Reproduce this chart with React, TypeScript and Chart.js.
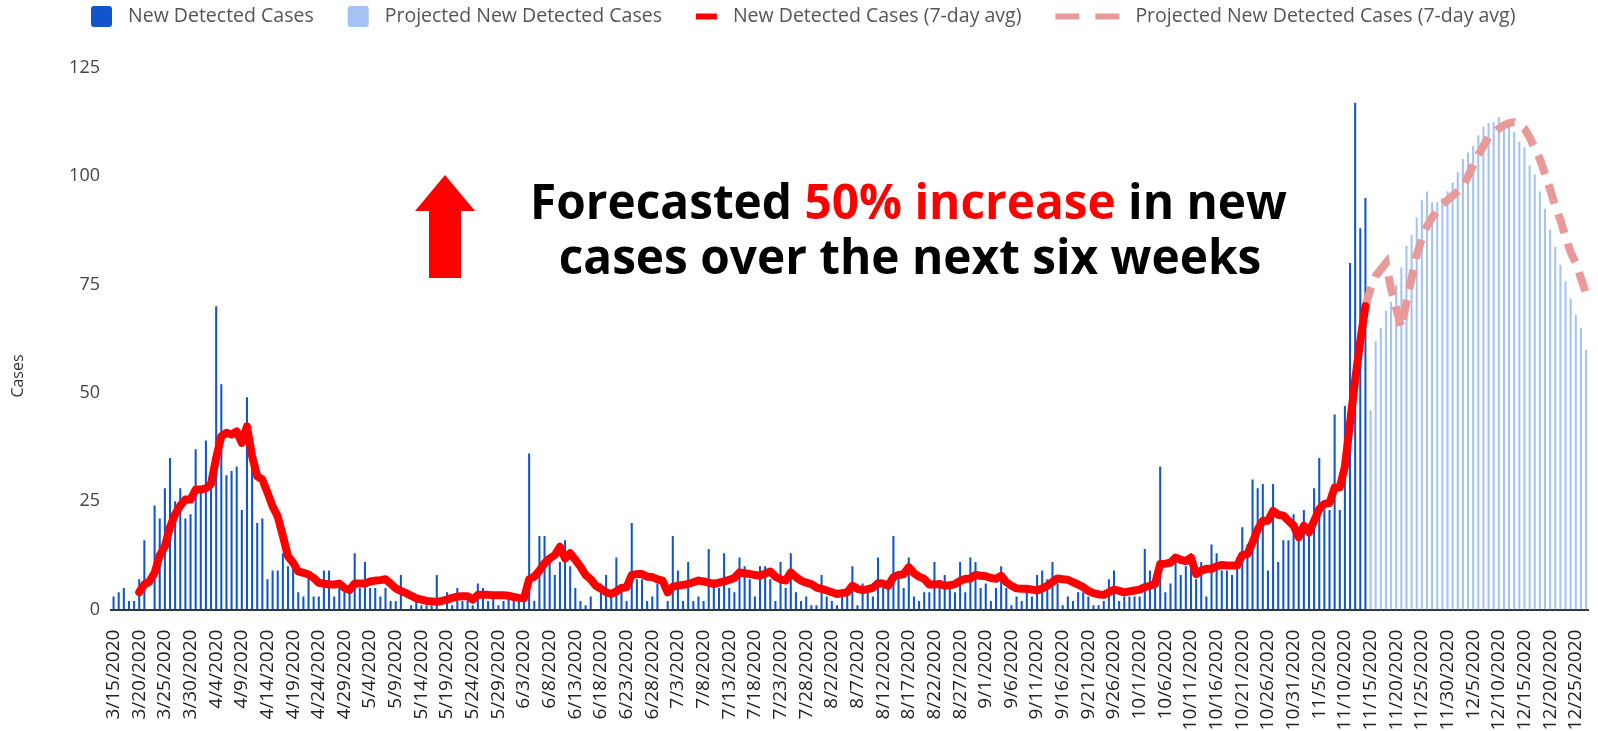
import React, { useEffect, useRef } from 'react';
import { Chart, registerables } from 'chart.js';

Chart.register(...registerables);

// ---------- DATA ----------
const START_YEAR = 2020;
const START_MONTH = 3;
const START_DAY = 15;
const DAY_COUNT = 288; // 3/15/2020 .. 12/27/2020

const TICK_LABELS = [
  '3/15/2020', '3/20/2020', '3/25/2020', '3/30/2020', '4/4/2020', '4/9/2020', '4/14/2020', '4/19/2020',
  '4/24/2020', '4/29/2020', '5/4/2020', '5/9/2020', '5/14/2020', '5/19/2020', '5/24/2020', '5/29/2020',
  '6/3/2020', '6/8/2020', '6/13/2020', '6/18/2020', '6/23/2020', '6/28/2020', '7/3/2020', '7/8/2020',
  '7/13/2020', '7/18/2020', '7/23/2020', '7/28/2020', '8/2/2020', '8/7/2020', '8/12/2020', '8/17/2020',
  '8/22/2020', '8/27/2020', '9/1/2020', '9/6/2020', '9/11/2020', '9/16/2020', '9/21/2020', '9/26/2020',
  '10/1/2020', '10/6/2020', '10/11/2020', '10/16/2020', '10/21/2020', '10/26/2020', '10/31/2020',
  '11/5/2020', '11/10/2020', '11/15/2020', '11/20/2020', '11/25/2020', '11/30/2020', '12/5/2020',
  '12/10/2020', '12/15/2020', '12/20/2020', '12/25/2020',
];

// New detected cases, 3/15 .. 11/14
const NEW_CASES = [
  3, 4, 5, 2, 2, 7, 16, 0, 24, 21,
  28, 35, 25, 28, 21, 22, 37, 27, 39, 28,
  70, 52, 31, 32, 33, 23, 49, 33, 20, 21,
  7, 9, 9, 13, 10, 10, 4, 3, 8, 3,
  3, 9, 9, 3, 5, 5, 4, 13, 5, 11,
  5, 5, 3, 5, 2, 2, 8, 0, 1, 2,
  1, 1, 1, 8, 0, 4, 1, 5, 2, 2,
  1, 6, 5, 2, 3, 1, 2, 3, 2, 2,
  2, 36, 2, 17, 17, 11, 8, 11, 16, 10,
  5, 2, 1, 3, 0, 6, 8, 3, 12, 4,
  2, 20, 7, 7, 2, 3, 6, 0, 2, 17,
  9, 2, 11, 2, 3, 2, 14, 7, 5, 13,
  5, 4, 12, 10, 7, 3, 10, 10, 7, 2,
  11, 5, 13, 4, 2, 3, 1, 1, 8, 3,
  2, 1, 4, 4, 10, 1, 6, 4, 3, 12,
  5, 5, 17, 8, 5, 12, 3, 2, 4, 4,
  11, 5, 8, 5, 4, 11, 4, 12, 11, 5,
  6, 2, 5, 10, 5, 1, 3, 2, 4, 3,
  8, 9, 7, 11, 6, 1, 3, 2, 4, 4,
  3, 1, 1, 2, 7, 9, 2, 3, 3, 3,
  3, 14, 9, 6, 33, 4, 6, 11, 8, 10,
  13, 7, 11, 3, 15, 13, 9, 9, 8, 12,
  19, 15, 30, 28, 29, 9, 29, 11, 16, 16,
  22, 17, 23, 17, 28, 35, 23, 23, 45, 23,
  47, 80, 117, 88, 95,
];

// Projected new detected cases, 11/15 .. 12/27
const PROJECTED_START = 245;
const PROJECTED_CASES = [
  46, 62, 65, 69, 71, 75, 79, 84, 86.5, 90.5,
  94.5, 96.5, 94, 94, 95, 96.5, 98.5, 101, 104, 105.5,
  107, 109.5, 111.5, 112.3, 112.5, 113.7, 111.5, 111.5, 110.3, 108,
  106.7, 102.5, 100.5, 96.5, 92.5, 87.7, 83.7, 79.6, 75.8, 71.8,
  68, 65, 60,
];

// 7-day average, 3/20 .. 11/14
const AVG_START = 5;
const NEW_CASES_AVG = [
  4, 5.8, 6.5, 8.5, 12.5,
  14.6, 19, 22, 24, 25.4, 25.4, 27.7, 27.7, 28, 29,
  35, 40, 40.8, 40.4, 41.1, 38.5, 42.3, 35.4, 30.8, 30,
  27, 23.8, 21.5, 17, 12.3, 10.8, 8.8, 8.5, 8.1, 7.3,
  6.2, 6, 5.8, 5.8, 6, 5, 4.5, 6, 6, 6,
  6.5, 6.7, 6.8, 7, 6, 4.9, 4.3, 3.8, 3.2, 2.6,
  2.3, 2, 1.9, 1.8, 2, 2.3, 2.7, 3, 3.1, 3.1,
  2.3, 3.4, 3.4, 3.4, 3.3, 3.3, 3.3, 3.2, 2.9, 2.7,
  2.6, 7, 7.6, 9, 10.7, 11.8, 12.6, 14.5, 11.8, 13,
  11.5, 9.9, 8, 7, 5.5, 4.8, 4, 3.6, 4.2, 5,
  5.2, 8, 8.2, 8.2, 7.6, 7.5, 7, 6.7, 4, 5.3,
  5.5, 5.7, 5.9, 6.3, 6.7, 6.5, 6.2, 5.9, 6.2, 6.5,
  6.9, 7.3, 8.6, 8.4, 8.2, 8, 7.8, 8.3, 8.8, 7.6,
  7, 6.7, 8.6, 7.5, 6.7, 6.2, 5.9, 5.1, 4.8, 4.4,
  4, 3.6, 3.8, 4, 5.5, 4.8, 4.5, 4.7, 5, 6.1,
  6, 5.5, 7.5, 8, 8.2, 9.8, 8.4, 7.6, 7.1, 5.8,
  5.8, 5.9, 5.5, 5.6, 5.9, 6.6, 7.1, 7.2, 8, 7.8,
  7.7, 7.3, 7.1, 7.8, 6.3, 5.5, 4.9, 4.8, 4.8, 4.6,
  4.4, 4.9, 5.5, 6.4, 7.2, 7, 6.9, 6.3, 5.8, 5.2,
  4.3, 3.8, 3.5, 3.4, 4, 4.6, 4.3, 4, 4.2, 4.4,
  4.6, 5.2, 5.5, 5.9, 10.5, 10.6, 10.8, 12, 11.5, 11.2,
  12, 8.2, 9, 9.4, 9.4, 10, 10.3, 10.2, 10.2, 10.2,
  12.6, 12.8, 15.5, 18.5, 20.5, 20.5, 22.8, 21.9, 21.7, 20.5,
  19.4, 16.7, 19.4, 17.8, 20.5, 23.2, 24.4, 24.6, 28.2, 28.2,
  33, 43, 53, 62, 70,
];

// Projected 7-day average, 11/14 .. 12/27
const PROJECTED_AVG_START = 244;
const PROJECTED_AVG = [
  70, 74, 77, 78.5, 80, 74, 69.5, 65, 71, 76.5,
  82, 85.5, 88.5, 90.5, 92, 93.5, 94.5, 95.5, 96.5, 97.5,
  100, 102.5, 105, 107, 109, 110, 111, 111.8, 112.3, 112.5,
  112, 111, 109, 106.5, 104, 100.5, 97, 93, 90, 86,
  82.5, 80, 76.5, 73,
];

const SERIES_NAMES = [
  'New Detected Cases',
  'Projected New Detected Cases',
  'New Detected Cases (7-day avg)',
  'Projected New Detected Cases (7-day avg)',
];

const Y_TITLE = 'Cases';
const HEADLINE_1 = ['Forecasted ', '50% increase', ' in new'];
const HEADLINE_2 = 'cases over the next six weeks';

// ---------- STYLE ----------
const FONT = '"Open Sans", "DejaVu Sans", sans-serif';
const DARK_BLUE = '#1155CC';
const LIGHT_BLUE = '#A4C2F4';
const RED = '#FF0000';
const PINK = '#EA9999';

function buildCategories(): string[] {
  const out: string[] = [];
  for (let i = 0; i < DAY_COUNT; i++) {
    const d = new Date(Date.UTC(START_YEAR, START_MONTH - 1, START_DAY + i));
    out.push(`${d.getUTCMonth() + 1}/${d.getUTCDate()}/${d.getUTCFullYear()}`);
  }
  return out;
}

function placeSeries(values: number[], start: number, count: number): (number | null)[] {
  const out: (number | null)[] = [];
  for (let i = 0; i < count; i++) {
    const j = i - start;
    out.push(j >= 0 && j < values.length ? values[j] : null);
  }
  return out;
}

function roundRectPath(ctx: CanvasRenderingContext2D, x: number, y: number, w: number, h: number, r: number) {
  ctx.beginPath();
  ctx.moveTo(x + r, y);
  ctx.lineTo(x + w - r, y);
  ctx.quadraticCurveTo(x + w, y, x + w, y + r);
  ctx.lineTo(x + w, y + h - r);
  ctx.quadraticCurveTo(x + w, y + h, x + w - r, y + h);
  ctx.lineTo(x + r, y + h);
  ctx.quadraticCurveTo(x, y + h, x, y + h - r);
  ctx.lineTo(x, y + r);
  ctx.quadraticCurveTo(x, y, x + r, y);
  ctx.closePath();
}

const legendPlugin = {
  id: 'sheetLegend',
  afterDraw(chart: any) {
    const ctx: CanvasRenderingContext2D = chart.ctx;
    ctx.save();
    ctx.font = `19.5px ${FONT}`;
    ctx.textBaseline = 'middle';
    ctx.textAlign = 'left';
    const symbolW = [21, 21, 21, 64];
    const gap = 16;
    const itemGap = 34;
    let x = 91;
    const cy = 16.5;
    SERIES_NAMES.forEach((label, i) => {
      if (i === 0 || i === 1) {
        ctx.fillStyle = i === 0 ? DARK_BLUE : LIGHT_BLUE;
        roundRectPath(ctx, x, cy - 10.5, symbolW[i], 21, 3);
        ctx.fill();
      } else if (i === 2) {
        ctx.strokeStyle = RED;
        ctx.lineWidth = 6;
        ctx.beginPath();
        ctx.moveTo(x, cy);
        ctx.lineTo(x + symbolW[i], cy);
        ctx.stroke();
      } else {
        ctx.strokeStyle = PINK;
        ctx.lineWidth = 6;
        ctx.beginPath();
        ctx.moveTo(x, cy);
        ctx.lineTo(x + 24, cy);
        ctx.moveTo(x + 40, cy);
        ctx.lineTo(x + 64, cy);
        ctx.stroke();
      }
      x += symbolW[i] + gap;
      ctx.fillStyle = '#555555';
      ctx.fillText(label, x, cy);
      x += ctx.measureText(label).width + itemGap;
    });
    ctx.restore();
  },
};

const annotationPlugin = {
  id: 'headline',
  afterDraw(chart: any) {
    const ctx: CanvasRenderingContext2D = chart.ctx;
    ctx.save();
    // y axis title
    ctx.save();
    ctx.translate(18, 376);
    ctx.rotate(-Math.PI / 2);
    ctx.font = `16px ${FONT}`;
    ctx.fillStyle = '#333333';
    ctx.textAlign = 'center';
    ctx.textBaseline = 'middle';
    ctx.fillText(Y_TITLE, 0, 0);
    ctx.restore();

    // arrow
    ctx.fillStyle = RED;
    ctx.beginPath();
    ctx.moveTo(445, 175);
    ctx.lineTo(475, 211);
    ctx.lineTo(461, 211);
    ctx.lineTo(461, 278);
    ctx.lineTo(429, 278);
    ctx.lineTo(429, 211);
    ctx.lineTo(415, 211);
    ctx.closePath();
    ctx.fill();

    // headline
    const line1 = HEADLINE_1.join('');
    ctx.font = `bold 100px ${FONT}`;
    const size = (757 / ctx.measureText(line1).width) * 100;
    ctx.font = `bold ${size}px ${FONT}`;
    ctx.textBaseline = 'alphabetic';
    ctx.textAlign = 'left';
    const w1 = ctx.measureText(line1).width;
    let x = 908.5 - w1 / 2;
    HEADLINE_1.forEach((part, i) => {
      ctx.fillStyle = i === 1 ? RED : '#000000';
      ctx.fillText(part, x, 219);
      x += ctx.measureText(part).width;
    });
    ctx.fillStyle = '#000000';
    ctx.textAlign = 'center';
    ctx.fillText(HEADLINE_2, 910, 274);
    ctx.restore();
  },
};

export default function App() {
  const canvasRef = useRef<HTMLCanvasElement | null>(null);

  useEffect(() => {
    const canvas = canvasRef.current;
    if (!canvas) return;
    const categories = buildCategories();
    const tickSet = new Set(TICK_LABELS);
    const n = categories.length;

    Chart.defaults.font.family = FONT;

    const chart = new Chart(canvas, {
      type: 'bar',
      data: {
        labels: categories,
        datasets: [
          {
            type: 'line',
            label: SERIES_NAMES[2],
            data: placeSeries(NEW_CASES_AVG, AVG_START, n),
            borderColor: RED,
            backgroundColor: RED,
            borderWidth: 8,
            pointRadius: 0,
            tension: 0,
            borderJoinStyle: 'round',
            borderCapStyle: 'round',
            spanGaps: false,
            order: 1,
          },
          {
            type: 'line',
            label: SERIES_NAMES[3],
            data: placeSeries(PROJECTED_AVG, PROJECTED_AVG_START, n),
            borderColor: PINK,
            backgroundColor: PINK,
            borderWidth: 8,
            borderDash: [20, 11],
            pointRadius: 0,
            tension: 0,
            spanGaps: false,
            order: 1,
          },
          {
            type: 'bar',
            label: SERIES_NAMES[0],
            data: placeSeries(NEW_CASES, 0, n),
            backgroundColor: DARK_BLUE,
            barPercentage: 0.4,
            categoryPercentage: 1,
            grouped: false,
            order: 2,
          },
          {
            type: 'bar',
            label: SERIES_NAMES[1],
            data: placeSeries(PROJECTED_CASES, PROJECTED_START, n),
            backgroundColor: LIGHT_BLUE,
            barPercentage: 0.4,
            categoryPercentage: 1,
            grouped: false,
            order: 2,
          },
        ] as any,
      },
      options: {
        animation: false,
        responsive: false,
        devicePixelRatio: 1,
        layout: { padding: { top: 68, right: 9.4, left: 0, bottom: 0 } },
        plugins: {
          legend: { display: false },
          tooltip: { enabled: false },
        },
        scales: {
          x: {
            grid: { display: false, drawTicks: false },
            border: { display: true, color: '#333333', width: 2 },
            ticks: {
              autoSkip: false,
              minRotation: 90,
              maxRotation: 90,
              padding: 20,
              color: '#222222',
              font: { family: FONT, size: 19 },
              callback: function (this: any, value: any) {
                const l = this.getLabelForValue(value);
                return tickSet.has(l) ? l : '';
              },
            },
            afterFit: (scale: any) => {
              scale.height = 121.4;
              scale.paddingLeft = 0;
              scale.paddingRight = 0;
            },
          },
          y: {
            min: 0,
            max: 125,
            grid: { display: false, drawTicks: false },
            border: { display: false },
            ticks: {
              stepSize: 25,
              padding: 11,
              color: '#444444',
              font: { family: FONT, size: 18 },
            },
            afterFit: (scale: any) => {
              scale.width = 111;
            },
          },
        },
      } as any,
      plugins: [legendPlugin, annotationPlugin],
    });

    return () => {
      chart.destroy();
    };
  }, []);

  return (
    <div style={{ position: 'fixed', left: 0, top: 0, width: 1598, height: 731, background: '#ffffff' }}>
      <canvas ref={canvasRef} width={1598} height={731} style={{ display: 'block', width: 1598, height: 731 }} />
    </div>
  );
}
